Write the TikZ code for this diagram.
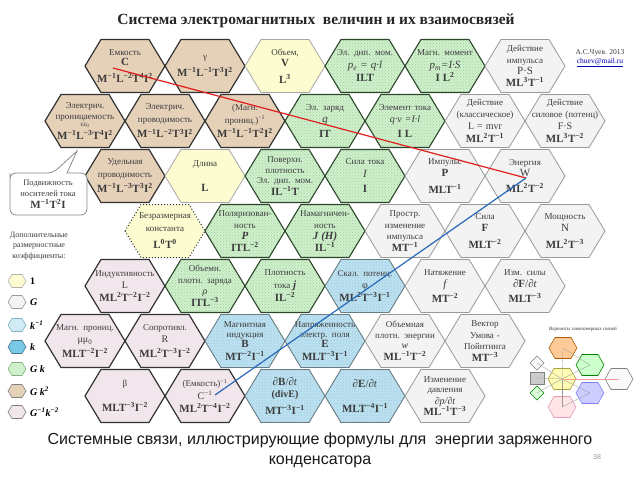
\documentclass[tikz,border=0pt]{standalone}
\usepackage{fontspec}
\setmainfont{Liberation Serif}
\newfontfamily\capfont{Liberation Sans}
\usetikzlibrary{patterns}
\definecolor{tanF}{RGB}{229,208,184}
\definecolor{yelF}{RGB}{252,252,208}
\definecolor{greF}{RGB}{208,240,204}
\definecolor{greP}{RGB}{160,210,160}
\definecolor{gryF}{RGB}{243,243,243}
\definecolor{bluF}{RGB}{190,226,240}
\definecolor{bluP}{RGB}{150,200,225}
\definecolor{bluK}{RGB}{120,200,230}
\definecolor{pnkF}{RGB}{242,230,237}
\definecolor{darkB}{RGB}{50,50,50}
\definecolor{txtG}{RGB}{60,60,60}
\definecolor{lineR}{RGB}{225,30,30}
\definecolor{lineB}{RGB}{40,105,185}
\newcommand\hsup[1]{\textsuperscript{#1}}
\newcommand\fm[1]{{\fontsize{11}{12}\selectfont\bfseries #1}}
\newcommand\hexa[4]{%
  \draw[#2,shift={(#1)}] (-40,0) -- (-24,-26.5) -- (24,-26.5) -- (40,0) -- (24,26.5) -- (-24,26.5) -- cycle;
  \node[hextxt] (#3) at (#1) {#4};}
\newcommand\lhex[4]{%
  \draw[#2,shift={(17,#1)}] (-9,0) -- (-5,-6.5) -- (5,-6.5) -- (9,0) -- (5,6.5) -- (-5,6.5) -- cycle;
  \node[legtxt] (#3) at (30,#1) {#4};}
\newcommand\mhex[4]{%
  \draw[fill=#2,draw=#3,line width=0.6pt,shift={(#1)}] (-14,0) -- (-8,-10.5) -- (8,-10.5) -- (14,0) -- (8,10.5) -- (-8,10.5) -- cycle;
  \coordinate (#4) at (#1);}
\tikzset{
  x=1pt,y=-1pt,
  hextxt/.style={align=center,text width=80pt,inner sep=0pt,text=txtG,font=\fontsize{9}{12.5}\selectfont},
  legtxt/.style={anchor=west,inner sep=0pt,font=\fontsize{10}{11}\selectfont\bfseries},
  tanhex/.style={fill=tanF,draw=darkB,line width=1.2pt},
  yelhex/.style={fill=yelF,draw=black!35,line width=0.8pt},
  dothex/.style={fill=yelF,draw=darkB,line width=1pt,dotted},
  grehex/.style={preaction={fill=greF},pattern=crosshatch dots,pattern color=greP,draw=darkB!90!green,line width=1.1pt},
  gryhex/.style={fill=gryF,draw=black!40,line width=0.8pt},
  bluhex/.style={preaction={fill=bluF},pattern=crosshatch dots,pattern color=bluP,draw=black!45!bluF,line width=0.9pt},
  pnkhex/.style={fill=pnkF,draw=darkB,line width=1.2pt},
}
\begin{document}
\begin{tikzpicture}
\useasboundingbox[fill=white] (0,0) rectangle (640,480);
% title
\node[font=\fontsize{15.5}{18}\selectfont\bfseries,text=black!85] (title) at (316,21) {Система электромагнитных\ \ величин и их взаимосвязей};
\node[font=\fontsize{7.5}{9.5}\selectfont,text=txtG,align=center] (auth) at (600,58) {А.С.Чуев. 2013\\ \textcolor{blue!70!black}{\underline{chuev@mail.ru}}};
% row 0
\hexa{125,66}{tanhex}{emk}{Емкость\\[-2pt] \fm{C}\\[4pt] \fm{M\hsup{−1}L\hsup{−2}T\hsup{4}I\hsup{2}}}
\hexa{205,66}{tanhex}{gam}{γ\\[5pt] \fm{M\hsup{−1}L\hsup{−1}T\hsup{3}I\hsup{2}}}
\hexa{285,66}{yelhex}{vol}{Объем,\\[-1pt] \fm{V}\\[4pt] \fm{L\hsup{3}}}
\hexa{365,66}{grehex}{pe}{Эл. дип. мом.\\ {\fontsize{11}{12}\selectfont\itshape p\textsubscript{e} = q·l}\\[1pt] \fm{ILT}}
\hexa{445,66}{grehex}{pm}{Магн. момент\\ {\fontsize{11}{12}\selectfont\itshape p\textsubscript{m}=I·S}\\[1pt] \fm{I L\hsup{2}}}
\hexa{525,66}{gryhex}{dimp}{Действие\\[-1pt] импульса\\[-1pt] {\fontsize{11}{12}\selectfont P·S}\\[-1pt] \fm{ML\hsup{3}T\hsup{−1}}}
% row 1
\hexa{85,121}{tanhex}{eps}{Электрич.\\[-2pt] проницаемость\\[-5pt] {\fontsize{7}{7}\selectfont εε\textsubscript{0}}\\[0pt] \fm{M\hsup{−1}L\hsup{−3}T\hsup{4}I\hsup{2}}}
\hexa{165,121}{tanhex}{sig}{Электрич.\\ проводимость\\[3pt] \fm{M\hsup{−1}L\hsup{−2}T\hsup{3}I\hsup{2}}}
\hexa{245,121}{tanhex}{muinv}{(Магн.\\ прониц.)\hsup{−1}\\[2pt] \fm{M\hsup{−1}L\hsup{−1}T\hsup{2}I\hsup{2}}}
\hexa{325,121}{grehex}{q}{Эл. заряд\\ {\fontsize{11}{12}\selectfont\itshape q}\\[2pt] \fm{IT}}
\hexa{405,121}{grehex}{il}{Элемент тока\\ {\fontsize{10}{11}\selectfont\itshape q·v =I·l}\\[2pt] \fm{I L}}
\hexa{485,121}{gryhex}{dcl}{Действие\\[-1pt] (классическое)\\ {\fontsize{10}{11}\selectfont L = mvr}\\ \fm{ML\hsup{2}T\hsup{−1}}}
\hexa{565,121}{gryhex}{dsil}{Действие\\[-1pt] силовое (потенц)\\ {\fontsize{10}{11}\selectfont F·S}\\ \fm{ML\hsup{3}T\hsup{−2}}}
% row 2
\hexa{125,176}{tanhex}{usig}{Удельная\\ проводимость\\[3pt] \fm{M\hsup{−1}L\hsup{−3}T\hsup{3}I\hsup{2}}}
\hexa{205,176}{yelhex}{len}{Длина\\[12pt] \fm{L}}
\hexa{285,176}{grehex}{pov}{Поверхн.\\[-2pt] плотность\\[-2pt] Эл. дип. мом.\\[-1pt] \fm{IL\hsup{−1}T}}
\hexa{365,176}{grehex}{cur}{Сила тока\\ {\fontsize{11}{12}\selectfont\itshape I}\\[3pt] \fm{I}}
\hexa{445,176}{gryhex}{imp}{Импульс\\ \fm{P}\\[4pt] \fm{MLT\hsup{−1}}}
\hexa{525,176}{gryhex}{en}{Энергия\\[-1pt] {\fontsize{11}{12}\selectfont W}\\[3pt] \fm{ML\hsup{2}T\hsup{−2}}}
% row 3
\hexa{165,231}{dothex}{bez}{Безразмерная\\ константа\\[5pt] \fm{L\hsup{0}T\hsup{0}}}
\hexa{245,231}{grehex}{pol}{Поляризован-\\[-1pt] ность\\[-1pt] {\fontsize{11}{12}\selectfont\bfseries\itshape P}\\[-1pt] \fm{ITL\hsup{−2}}}
\hexa{325,231}{grehex}{nam}{Намагничен-\\[-1pt] ность\\[-1pt] {\fontsize{11}{12}\selectfont\bfseries\itshape J (H)}\\[-1pt] \fm{IL\hsup{−1}}}
\hexa{405,231}{gryhex}{pim}{Простр.\\[-1pt] изменение\\[-1pt] импульса\\[-1pt] \fm{MT\hsup{−1}}}
\hexa{485,231}{gryhex}{sila}{Сила\\ \fm{F}\\[4pt] \fm{MLT\hsup{−2}}}
\hexa{565,231}{gryhex}{pow}{Мощность\\ {\fontsize{11}{12}\selectfont N}\\[4pt] \fm{ML\hsup{2}T\hsup{−3}}}
% row 4
\hexa{125,286}{pnkhex}{ind}{Индуктивность\\ {\fontsize{10}{11}\selectfont L}\\ \fm{ML\hsup{2}T\hsup{−2}I\hsup{−2}}}
\hexa{205,286}{grehex}{rho}{Объемн.\\[-1pt] плотн. заряда\\[-1pt] {\fontsize{10}{11}\selectfont\itshape ρ}\\[-1pt] \fm{ITL\hsup{−3}}}
\hexa{285,286}{grehex}{jj}{Плотность\\ тока {\fontsize{11}{12}\selectfont\bfseries\itshape j}\\[1pt] \fm{IL\hsup{−2}}}
\hexa{365,286}{bluhex}{phi}{Скал. потенц.\\ {\fontsize{10}{11}\selectfont φ}\\ \fm{ML\hsup{2}T\hsup{−3}I\hsup{−1}}}
\hexa{445,286}{gryhex}{nat}{Натяжение\\ {\fontsize{11}{12}\selectfont\itshape f}\\[2pt] \fm{MT\hsup{−2}}}
\hexa{525,286}{gryhex}{dF}{Изм. силы\\ {\fontsize{11}{12}\selectfont ∂\textbf{F}/∂\textit{t}}\\[2pt] \fm{MLT\hsup{−3}}}
% row 5
\hexa{85,341}{pnkhex}{mu}{Магн. прониц.\\ {\fontsize{10}{11}\selectfont μμ\textsubscript{0}}\\[2pt] \fm{MLT\hsup{−2}I\hsup{−2}}}
\hexa{165,341}{pnkhex}{res}{Сопротивл.\\ {\fontsize{10}{11}\selectfont R}\\[2pt] \fm{ML\hsup{2}T\hsup{−3}I\hsup{−2}}}
\hexa{245,341}{bluhex}{bb}{Магнитная\\[-3pt] индукция\\[-2pt] \fm{B}\\[0pt] \fm{MT\hsup{−2}I\hsup{−1}}}
\hexa{325,341}{bluhex}{ee}{Напряженность\\[-3pt] электр. поля\\[-2pt] \fm{E}\\[0pt] \fm{MLT\hsup{−3}I\hsup{−1}}}
\hexa{405,341}{gryhex}{wv}{Объемная\\[-2pt] плотн. энергии\\[-2pt] {\fontsize{10}{11}\selectfont\itshape w}\\[-1pt] \fm{ML\hsup{−1}T\hsup{−2}}}
\hexa{485,341}{gryhex}{umov}{Вектор\\[-1pt] Умова -\\[-1pt] Пойнтинга\\[-1pt] \fm{MT\hsup{−3}}}
% row 6
\hexa{125,396}{pnkhex}{beta}{β\\[12pt] \fm{MLT\hsup{−3}I\hsup{−2}}}
\hexa{205,396}{pnkhex}{cinv}{(Емкость)\hsup{−1}\\ {\fontsize{10}{11}\selectfont C\hsup{−1}}\\[1pt] \fm{ML\hsup{2}T\hsup{−4}I\hsup{−2}}}
\hexa{285,396}{bluhex}{dB}{{\fontsize{11}{12}\selectfont ∂\textbf{B}/∂\textit{t}}\\ {\fontsize{10}{11}\selectfont\bfseries (divE)}\\[4pt] \fm{MT\hsup{−3}I\hsup{−1}}}
\hexa{365,396}{bluhex}{dE}{{\fontsize{11}{12}\selectfont ∂\textbf{E}/∂\textit{t}}\\[13pt] \fm{MLT\hsup{−4}I\hsup{−1}}}
\hexa{445,396}{gryhex}{dp}{Изменение\\[-2pt] давления\\[-1pt] {\fontsize{10}{11}\selectfont\itshape ∂p/∂t}\\[-1pt] \fm{ML\hsup{−1}T\hsup{−3}}}
% callout
\draw[draw=black!45,fill=white,line width=0.8pt] (10,179) [rounded corners=6pt] -- (10,173) -- (53,173) [sharp corners] -- (77,151) -- (67,173) [rounded corners=6pt] -- (87,173) -- (87,215) -- (10,215) -- cycle;
\node[align=center,inner sep=0pt,text=txtG,font=\fontsize{8.5}{11}\selectfont] (podv) at (48,194) {Подвижность\\ носителей тока\\[1pt] \fm{M\hsup{−1}T\hsup{2}I}};
% legend
\node[align=center,inner sep=0pt,text=txtG,font=\fontsize{8}{10.5}\selectfont] (dop) at (39,246) {Дополнительные\\ размерностные\\ коэффициенты:};
\lhex{281}{fill=yelF,draw=black!30,line width=0.6pt}{l1}{1}
\lhex{302}{fill=gryF,draw=black!40,line width=0.6pt}{l2}{\itshape G}
\lhex{325}{fill=bluF!70!white,draw=cyan!60!black!60,line width=0.6pt}{l3}{\itshape k\hsup{−1}}
\lhex{347}{fill=bluK,draw=cyan!50!black,line width=0.6pt}{l4}{\itshape k}
\lhex{369}{fill=greF,draw=green!40!black!50,line width=0.6pt}{l5}{\itshape G k}
\lhex{391}{fill=tanF,draw=black!50,line width=0.6pt}{l6}{\itshape G k\hsup{2}}
\lhex{412}{fill=pnkF,draw=black!50,line width=0.6pt}{l7}{\itshape G\hsup{−1}k\hsup{−2}}
% connectors
\coordinate (pC) at (113,68);
\coordinate (pW) at (526,178);
\coordinate (pCi) at (215,395);
\draw[lineR,line width=1.2pt] (pC) -- (pW);
\draw[lineB,line width=1.2pt] (pCi) -- (pW);
% inset
\node[font=\fontsize{5}{6}\selectfont,text=txtG] (ins) at (583,329) {Варианты закономерных связей};
\mhex{563,348}{orange!40}{orange!70!black}{io}
\mhex{590,365}{green!20}{green!50!black}{ig}
\mhex{562,379}{yellow!30}{yellow!60!black}{iy}
\mhex{590,393}{blue!20}{blue!50}{ib}
\mhex{562,407}{pink!40}{purple!40}{ip}
\mhex{619,379}{gray!5}{gray}{iw}
\draw[fill=gray!5,draw=gray,line width=0.5pt] (537,356) -- (544,363) -- (537,370) -- (530,363) -- cycle;
\coordinate (id1) at (537,363);
\draw[fill=gray!40,draw=gray,line width=0.5pt] (530,372) rectangle (544,384);
\coordinate (id2) at (537,378);
\draw[fill=green!15,draw=green!50!black,line width=0.5pt] (537,386) -- (544,393) -- (537,400) -- (530,393) -- cycle;
\coordinate (id3) at (537,393);
\foreach \t in {io,ig,ib,ip,id1,id2,id3}{\draw[gray!80,line width=0.3pt] (iy) -- (\t);}
\draw[red!40,line width=0.5pt] (iy) -- (iw);
\draw[gray!80,line width=0.3pt] (io) -- (ig) (ib) -- (ip);
% caption
\node[font=\capfont\fontsize{16}{20}\selectfont,align=center,text=black!90] (cap) at (320,450) {Системные связи, иллюстрирующие формулы для\ \ энергии заряженного\\ конденсатора};
\node[font=\capfont\fontsize{7}{8}\selectfont,text=black!40] (pg) at (597,457) {38};
\end{tikzpicture}
\end{document}
